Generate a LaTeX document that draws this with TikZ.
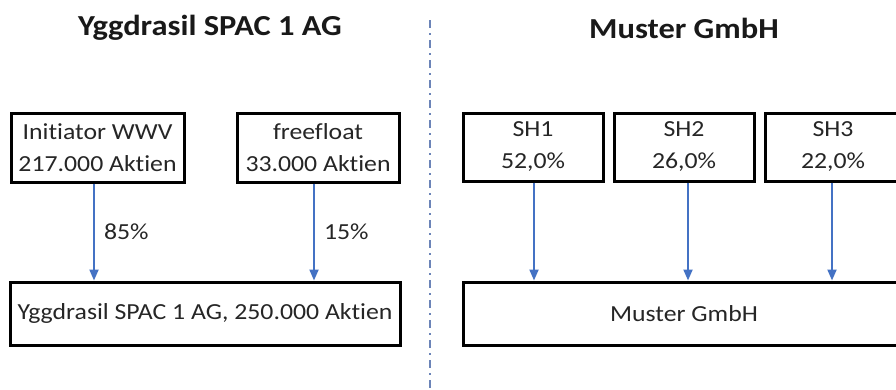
\documentclass[tikz,border=0pt]{standalone}
\usepackage{fontspec}
\setmainfont{Carlito}[FakeStretch=1.12,Ligatures=NoCommon]
\usetikzlibrary{arrows.meta}
\definecolor{arrblue}{HTML}{4472C4}
\definecolor{sepblue}{HTML}{6B84B8}
\begin{document}
\begin{tikzpicture}[x=1pt,y=-1pt,
  box/.style={draw=black,line width=3pt,rectangle,fill=white,inner sep=0pt,align=center,
    font=\fontsize{23}{32}\selectfont,text=black!85},
  title/.style={font=\fontsize{29}{34}\selectfont\bfseries,text=black!90},
  link/.style={draw=arrblue,line width=2pt,-{Triangle[length=11pt,width=9pt]}},
  pct/.style={font=\fontsize{23}{28}\selectfont,text=black!85,right,inner sep=0pt,xshift=9pt},
  sep/.style={draw=sepblue,line width=2pt,dash pattern=on 8pt off 5pt on 2pt off 5pt}]
\useasboundingbox (0,0) rectangle (896,389);
\clip (0,0) rectangle (896,389);
\fill[white] (0,0) rectangle (896,389);
% titles
\node[title] (t1) at (210,28) {Yggdrasil SPAC 1 AG};
\node[title] (t2) at (684,28) {Muster GmbH};
% separator
\coordinate (s1) at (430,20);
\coordinate (s2) at (430,389);
\draw[sep] (s1) -- (s2);
% left side
\node[box,minimum width=173pt,minimum height=69pt] (init) at (97.5,147.5) {Initiator WWV\\217.000 Aktien};
\node[box,minimum width=162pt,minimum height=69pt] (free) at (318,147.5) {freefloat\\33.000 Aktien};
\node[box,minimum width=390pt,minimum height=63pt] (ygg) at (205,313.5) {Yggdrasil SPAC 1 AG, 250.000 Aktien};
\draw[link] ([xshift=-3.5pt]init.south) -- node[pct] (p1) {85\%} ([xshift=-3.5pt]init.south |- ygg.north);
\draw[link] ([xshift=-4pt]free.south) -- node[pct] (p2) {15\%} ([xshift=-4pt]free.south |- ygg.north);
% right side
\node[box,minimum width=140pt,minimum height=68pt] (sh1) at (533,147) {SH1\\52,0\%};
\node[box,minimum width=140pt,minimum height=68pt] (sh2) at (684,147) {SH2\\26,0\%};
\node[box,minimum width=136pt,minimum height=68pt] (sh3) at (833,147) {SH3\\22,0\%};
\node[box,minimum width=442pt,minimum height=63pt] (mus) at (684,313.5) {Muster GmbH};
\draw[link] ([xshift=1pt]sh1.south) -- ([xshift=1pt]sh1.south |- mus.north);
\draw[link] ([xshift=4pt]sh2.south) -- ([xshift=4pt]sh2.south |- mus.north);
\draw[link] ([xshift=-1pt]sh3.south) -- ([xshift=-1pt]sh3.south |- mus.north);
\end{tikzpicture}
\end{document}
